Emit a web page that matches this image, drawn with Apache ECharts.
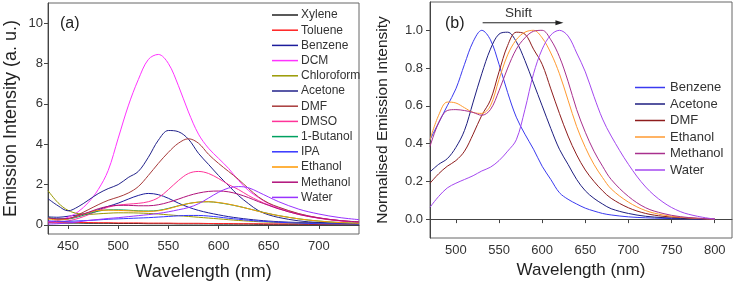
<!DOCTYPE html>
<html>
<head>
<meta charset="utf-8">
<script src="https://cdn.jsdelivr.net/npm/echarts@6/dist/echarts.min.js"></script>
<style>
  html, body { margin: 0; padding: 0; background: #fff; }
  #chart { width: 734px; height: 286px; }
</style>
</head>
<body>
<div id="chart"></div>
<script>
// panel (a): absolute emission, shared wavelength grid
const wlA = [430, 440, 450, 460, 470, 480, 490, 500, 510, 520, 530, 540, 550, 560, 570, 580, 590, 600, 610, 620, 630, 640, 650, 660, 680, 700, 720, 740];
const namesA = ["Xylene", "Toluene", "Benzene", "DCM", "Chloroform", "Acetone", "DMF", "DMSO", "1-Butanol", "IPA", "Ethanol", "Methanol", "Water"];
const colorsA = ["#222222", "#ff2020", "#1c1c9c", "#ff33ff", "#999900", "#22228a", "#a83a3a", "#ff3399", "#00a060", "#3535ff", "#ff9900", "#b0107a", "#9933ff"];

const xylene = [0.12, 0.1, 0.09, 0.09, 0.08, 0.08, 0.08, 0.07, 0.07, 0.07, 0.06, 0.06, 0.06, 0.05, 0.05, 0.05, 0.05, 0.04, 0.04, 0.04, 0.04, 0.03, 0.03, 0.03, 0.03, 0.02, 0.02, 0.02];
const toluene = [0.18, 0.15, 0.13, 0.12, 0.12, 0.11, 0.11, 0.1, 0.1, 0.1, 0.09, 0.09, 0.09, 0.08, 0.08, 0.08, 0.07, 0.07, 0.07, 0.06, 0.06, 0.06, 0.05, 0.05, 0.05, 0.04, 0.04, 0.04];
const benzene = [0.4, 0.38, 0.43, 0.5, 0.6, 0.75, 0.92, 1.08, 1.28, 1.46, 1.56, 1.5, 1.32, 1.08, 0.88, 0.72, 0.6, 0.5, 0.41, 0.34, 0.28, 0.23, 0.19, 0.16, 0.12, 0.1, 0.08, 0.07];
const dcm = [0.15, 0.22, 0.38, 0.65, 1.1, 1.75, 2.7, 4.3, 5.9, 7.2, 8.2, 8.45, 8.0, 6.9, 5.6, 4.5, 3.8, 3.3, 2.8, 2.2, 1.7, 1.35, 1.05, 0.85, 0.55, 0.35, 0.22, 0.14];
const chloroform = [1.7, 1.1, 0.72, 0.56, 0.52, 0.55, 0.58, 0.6, 0.6, 0.59, 0.57, 0.54, 0.5, 0.46, 0.42, 0.38, 0.34, 0.3, 0.26, 0.22, 0.19, 0.16, 0.14, 0.12, 0.09, 0.07, 0.05, 0.04];
const acetone = [1.3, 0.95, 0.7, 0.9, 1.22, 1.55, 1.8, 2.0, 2.35, 2.65, 3.35, 4.2, 4.68, 4.62, 4.25, 3.55, 3.0, 2.45, 1.95, 1.45, 1.05, 0.7, 0.5, 0.37, 0.2, 0.12, 0.08, 0.05];
const dmf = [0.35, 0.28, 0.3, 0.5, 0.75, 1.0, 1.22, 1.38, 1.58, 1.9, 2.45, 3.05, 3.6, 4.05, 4.27, 4.05, 3.5, 3.05, 2.65, 2.25, 1.8, 1.38, 1.08, 0.88, 0.56, 0.35, 0.22, 0.14];
const dmso = [0.1, 0.13, 0.2, 0.32, 0.5, 0.7, 0.88, 0.98, 1.03, 1.07, 1.15, 1.35, 1.75, 2.2, 2.55, 2.65, 2.55, 2.3, 2.0, 1.75, 1.45, 1.2, 0.98, 0.8, 0.52, 0.33, 0.2, 0.13];
const butanol = [0.38, 0.3, 0.3, 0.4, 0.55, 0.68, 0.75, 0.75, 0.73, 0.7, 0.69, 0.72, 0.82, 0.95, 1.06, 1.13, 1.15, 1.1, 1.02, 0.92, 0.8, 0.68, 0.56, 0.46, 0.3, 0.19, 0.12, 0.08];
const ipa = [0.2, 0.18, 0.18, 0.2, 0.22, 0.25, 0.28, 0.3, 0.32, 0.34, 0.36, 0.39, 0.42, 0.45, 0.47, 0.47, 0.44, 0.39, 0.33, 0.28, 0.23, 0.19, 0.16, 0.13, 0.09, 0.06, 0.05, 0.04];
const ethanol = [0.3, 0.25, 0.3, 0.45, 0.6, 0.72, 0.73, 0.72, 0.7, 0.68, 0.67, 0.7, 0.8, 0.94, 1.06, 1.13, 1.15, 1.11, 1.03, 0.92, 0.8, 0.67, 0.56, 0.46, 0.3, 0.19, 0.12, 0.08];
const methanol = [0.35, 0.3, 0.32, 0.45, 0.62, 0.8, 0.92, 0.97, 0.97, 0.95, 0.95, 1.0, 1.12, 1.28, 1.45, 1.58, 1.66, 1.68, 1.64, 1.52, 1.35, 1.15, 0.97, 0.8, 0.52, 0.34, 0.22, 0.15];
const water = [0.04, 0.06, 0.1, 0.15, 0.22, 0.27, 0.32, 0.36, 0.41, 0.46, 0.51, 0.57, 0.65, 0.75, 0.86, 1.05, 1.33, 1.62, 1.83, 1.9, 1.84, 1.62, 1.38, 1.15, 0.78, 0.54, 0.37, 0.26];
const valuesA = [xylene, toluene, benzene, dcm, chloroform, acetone, dmf, dmso, butanol, ipa, ethanol, methanol, water];

// panel (b): normalised emission
const wlB = [470, 480, 490, 500, 510, 520, 530, 540, 550, 560, 570, 580, 590, 600, 610, 620, 630, 640, 650, 660, 670, 680, 700, 720, 740, 760, 780, 800];
const namesB = ["Benzene", "Acetone", "DMF", "Ethanol", "Methanol", "Water"];
const colorsB = ["#3a3af0", "#1e1e80", "#8e1c1c", "#ff9a30", "#a8308e", "#a448f0"];

const benzeneN = [0.42, 0.51, 0.6, 0.69, 0.82, 0.94, 1.0, 0.95, 0.82, 0.67, 0.54, 0.45, 0.37, 0.28, 0.21, 0.14, 0.105, 0.08, 0.058, 0.043, 0.03, 0.022, 0.012, 0.007, 0.004, 0.002, 0.001, 0];
const acetoneN = [0.25, 0.29, 0.32, 0.38, 0.47, 0.62, 0.77, 0.9, 0.98, 0.99, 0.94, 0.84, 0.72, 0.6, 0.48, 0.37, 0.29, 0.21, 0.15, 0.11, 0.08, 0.055, 0.03, 0.015, 0.008, 0.004, 0.002, 0];
const dmfN = [0.19, 0.24, 0.28, 0.31, 0.36, 0.45, 0.55, 0.63, 0.78, 0.92, 0.99, 0.98, 0.9, 0.82, 0.69, 0.56, 0.44, 0.34, 0.26, 0.2, 0.15, 0.11, 0.06, 0.03, 0.015, 0.008, 0.003, 0];
const ethanolN = [0.42, 0.55, 0.62, 0.615, 0.59, 0.565, 0.56, 0.6, 0.74, 0.87, 0.95, 0.99, 1.0, 0.96, 0.88, 0.77, 0.63, 0.49, 0.38, 0.29, 0.22, 0.16, 0.09, 0.045, 0.022, 0.01, 0.004, 0];
const methanolN = [0.385, 0.51, 0.575, 0.58, 0.575, 0.565, 0.55, 0.58, 0.68, 0.8, 0.9, 0.96, 0.995, 1.0, 0.95, 0.86, 0.73, 0.58, 0.46, 0.36, 0.28, 0.21, 0.12, 0.06, 0.03, 0.013, 0.005, 0];
const waterN = [0.063, 0.12, 0.165, 0.19, 0.21, 0.23, 0.255, 0.275, 0.31, 0.36, 0.42, 0.58, 0.77, 0.9, 0.975, 1.0, 0.97, 0.88, 0.78, 0.65, 0.53, 0.44, 0.29, 0.17, 0.09, 0.04, 0.015, 0];
const valuesB = [benzeneN, acetoneN, dmfN, ethanolN, methanolN, waterN];

const ticksXA = [450, 500, 550, 600, 650, 700];
const ticksYA = [0, 2, 4, 6, 8, 10];
const ticksXB = [500, 550, 600, 650, 700, 750, 800];
const ticksYB = [0, 0.2, 0.4, 0.6, 0.8, 1.0];
// "Shift" arrow, in data units of panel (b)
const shiftFrom = [531, 1.04];
const shiftTo = [620, 1.04];

const FONT = "'Liberation Sans', Arial, sans-serif";
const axisCol = "#444";

function pairs(xs, ys) {
  return xs.map((x, i) => [x, ys[i]]);
}

function xAxis(grid, min, max, ticks, nameGap, nameSize) {
  return {
    type: "value", gridIndex: grid, min, max,
    name: "Wavelength (nm)", nameLocation: "middle", nameGap,
    nameTextStyle: { fontFamily: FONT, fontSize: nameSize, color: "#222" },
    axisLine: { lineStyle: { color: axisCol } },
    axisTick: { customValues: ticks, length: 4, lineStyle: { color: axisCol } },
    axisLabel: { customValues: ticks, fontFamily: FONT, fontSize: 13, color: "#333", margin: 6 },
    splitLine: { show: false },
  };
}

const series = [];
namesA.forEach((n, i) => {
  series.push({
    name: n, type: "line", xAxisIndex: 0, yAxisIndex: 0,
    data: pairs(wlA, valuesA[i]), showSymbol: false, smooth: 0.35,
    lineStyle: { color: colorsA[i], width: 1 }, itemStyle: { color: colorsA[i] },
  });
});
namesB.forEach((n, i) => {
  series.push({
    name: n, type: "line", xAxisIndex: 1, yAxisIndex: 1,
    data: pairs(wlB, valuesB[i]), showSymbol: false, smooth: 0.35,
    lineStyle: { color: colorsB[i], width: 1 }, itemStyle: { color: colorsB[i] },
  });
});
// arrow drawn as its own line series so the head follows the axis scale
series.push({
  type: "line", xAxisIndex: 1, yAxisIndex: 1, silent: true,
  data: [shiftFrom, shiftTo], showSymbol: false, symbol: "none",
  lineStyle: { color: "#222", width: 1 },
  markPoint: {
    silent: true, symbol: "triangle", symbolSize: [5, 8], symbolRotate: -90,
    itemStyle: { color: "#222" }, label: { show: false },
    data: [{ coord: shiftTo }],
  },
});

const chart = echarts.init(document.getElementById("chart"));
chart.setOption({
  animation: false,
  backgroundColor: "#fff",
  grid: [
    { left: 48, right: 375, top: 3, bottom: 50, show: true, borderColor: "#666", borderWidth: 1 },
    { left: 430, right: 2, top: 2, bottom: 48, show: true, borderColor: "#666", borderWidth: 1 },
  ],
  xAxis: [
    xAxis(0, 430, 740, ticksXA, 29, 18),
    xAxis(1, 470, 820, ticksXB, 24, 17),
  ],
  yAxis: [
    {
      type: "value", gridIndex: 0, min: -0.45, max: 11,
      name: "Emission Intensity (a. u.)", nameLocation: "middle", nameGap: 28,
      nameTextStyle: { fontFamily: FONT, fontSize: 18, color: "#222" },
      axisLine: { lineStyle: { color: axisCol } },
      axisTick: { customValues: ticksYA, length: 4, lineStyle: { color: axisCol } },
      axisLabel: { customValues: ticksYA, fontFamily: FONT, fontSize: 13, color: "#333", margin: 5 },
      splitLine: { show: false },
    },
    {
      type: "value", gridIndex: 1, min: -0.1, max: 1.15,
      name: "Normalised Emission Intensity", nameLocation: "middle", nameGap: 39,
      nameTextStyle: { fontFamily: FONT, fontSize: 15.5, color: "#222" },
      axisLine: { lineStyle: { color: axisCol } },
      axisTick: { customValues: ticksYB, length: 4, lineStyle: { color: axisCol } },
      axisLabel: {
        customValues: ticksYB, fontFamily: FONT, fontSize: 13, color: "#333", margin: 7,
        formatter: (v) => v.toFixed(1),
      },
      splitLine: { show: false },
    },
  ],
  legend: [
    {
      orient: "vertical", left: 267, top: 4, itemWidth: 26, itemHeight: 1.5, itemGap: 3.2,
      icon: "rect", selectedMode: false,
      textStyle: { fontFamily: FONT, fontSize: 12, color: "#333", padding: [0, 0, 0, -2] },
      data: namesA.map((n, i) => ({ name: n, itemStyle: { color: colorsA[i] } })),
    },
    {
      orient: "vertical", left: 630, top: 76, itemWidth: 30, itemHeight: 1.5, itemGap: 3.5,
      icon: "rect", selectedMode: false,
      textStyle: { fontFamily: FONT, fontSize: 13, color: "#333" },
      data: namesB.map((n, i) => ({ name: n, itemStyle: { color: colorsB[i] } })),
    },
  ],
  graphic: [
    { type: "text", left: 60, top: 16, style: { text: "(a)", font: "16px " + FONT, fill: "#222" } },
    { type: "text", left: 445, top: 16, style: { text: "(b)", font: "16px " + FONT, fill: "#222" } },
    { type: "text", left: 505, top: 6, style: { text: "Shift", font: "13.5px " + FONT, fill: "#333" } },
  ],
  series,
});
</script>
</body>
</html>
